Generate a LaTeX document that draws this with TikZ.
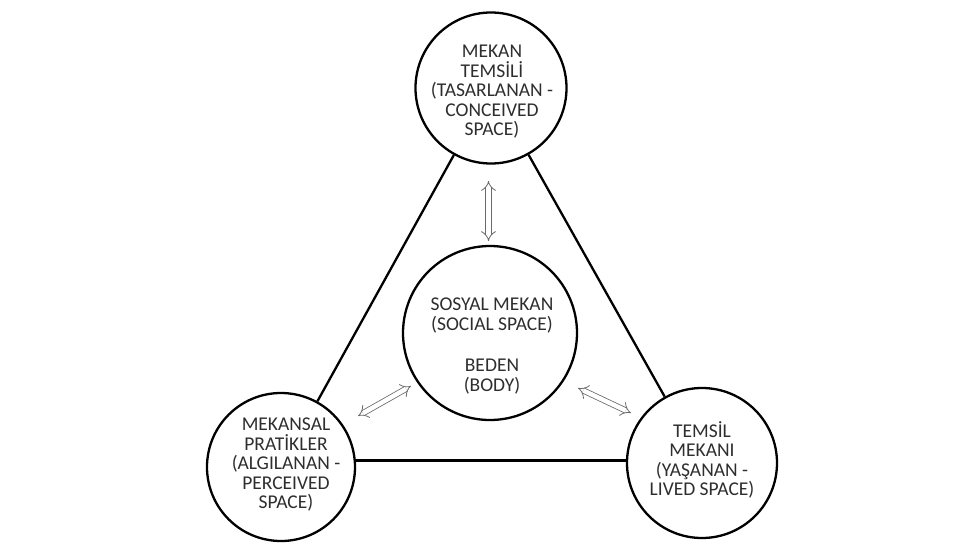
\documentclass[tikz,border=0pt]{standalone}
\usepackage{fontspec}
\setmainfont{Carlito}
\usetikzlibrary{arrows.meta}
\definecolor{ink}{HTML}{2E2E2E}
\definecolor{arrowgray}{HTML}{6A6A6A}
\tikzset{
  disc/.style={circle, draw=black, line width=2.3pt, inner sep=0pt, fill=none},
  caption/.style={text=ink, align=center, inner sep=0pt,
    font=\fontsize{19.5}{19.5}\selectfont},
  edge/.style={draw=black, line width=2.3pt},
  twoway/.style={draw=arrowgray, line width=0.8pt, double=white,
    double distance=4.5pt, {Implies}-{Implies}},
}
\begin{document}
\begin{tikzpicture}[x=1pt,y=-1pt]
  \fill[white] (0,0) rectangle (967,552);
  \useasboundingbox (0,0) rectangle (967,552);

  % the four circles
  \node[disc, minimum size=151pt] (T) at (491,88) {};
  \node[disc, minimum size=148pt] (L) at (281,467) {};
  \node[disc, minimum size=150pt] (R) at (702,463) {};
  \node[disc, minimum size=174pt] (C) at (490,333) {};

  % their texts
  \node[caption] (Ttext) at (492,92) {MEKAN\\TEMSİLİ\\(TASARLANAN -\\CONCEIVED\\SPACE)};
  \node[caption] (Ltext) at (286,465) {MEKANSAL\\PRATİKLER\\(ALGILANAN -\\PERCEIVED\\SPACE)};
  \node[caption] (Rtext) at (702,460) {TEMSİL\\MEKANI\\(YAŞANAN -\\LIVED SPACE)};
  \node[caption] (Ctext) at (492,346) {SOSYAL MEKAN\\(SOCIAL SPACE)\\[22pt]BEDEN\\(BODY)};

  % triangle sides
  \path[edge] (T) -- (L);
  \path[edge] (T) -- (R);
  \path[edge] (L.5) -- (R.west |- L.5);

  % two-way links to the centre
  \coordinate (a1) at (488.5,181);
  \coordinate (a2) at (488.5,241);
  \coordinate (b1) at (358,416);
  \coordinate (b2) at (411,386);
  \coordinate (c1) at (578,388);
  \coordinate (c2) at (631,413);
  \draw[twoway] (a1) -- (a2);
  \draw[twoway] (b1) -- (b2);
  \draw[twoway] (c1) -- (c2);
\end{tikzpicture}
\end{document}
